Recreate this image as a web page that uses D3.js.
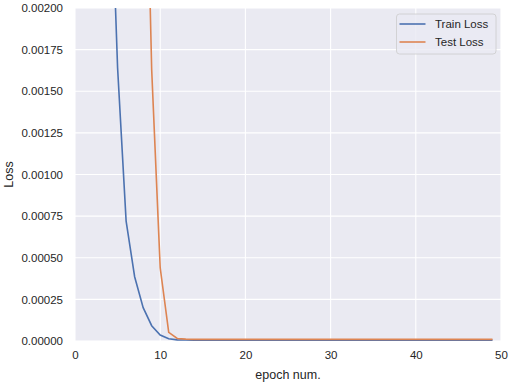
<!DOCTYPE html>
<html>
<head>
<meta charset="utf-8">
<script src="https://cdn.jsdelivr.net/npm/d3@7"></script>
<style>
  body { margin: 0; background: #fff; }
  text { font-family: "Liberation Sans", Arial, sans-serif; fill: #262626; }
</style>
</head>
<body>
<div id="chart"></div>
<script>
// epochs 0..49
const epochs = d3.range(0, 50);

// values (early epochs are off the top of the axis)
const trainLoss = [0.05, 0.02, 0.01, 0.0055, 0.0031, 0.00164, 0.00072, 0.000386, 0.0002, 0.000092,
  0.000036, 0.000014, 0.000007, 0.000006, 0.000005, 0.000005, 0.000005, 0.000005, 0.000005, 0.000005,
  0.000005, 0.000005, 0.000005, 0.000005, 0.000005, 0.000005, 0.000005, 0.000005, 0.000005, 0.000005,
  0.000005, 0.000005, 0.000005, 0.000005, 0.000005, 0.000005, 0.000005, 0.000005, 0.000005, 0.000005,
  0.000005, 0.000005, 0.000005, 0.000005, 0.000005, 0.000005, 0.000005, 0.000005, 0.000005, 0.000005];
const testLoss = [0.2, 0.1, 0.06, 0.04, 0.025, 0.018, 0.012, 0.007, 0.0038, 0.00163,
  0.00044, 0.000052, 0.000015, 0.000011, 0.00001, 0.00001, 0.00001, 0.00001, 0.00001, 0.00001,
  0.00001, 0.00001, 0.00001, 0.00001, 0.00001, 0.00001, 0.00001, 0.00001, 0.00001, 0.00001,
  0.00001, 0.00001, 0.00001, 0.00001, 0.00001, 0.00001, 0.00001, 0.00001, 0.00001, 0.00001,
  0.00001, 0.00001, 0.00001, 0.00001, 0.00001, 0.00001, 0.00001, 0.00001, 0.00001, 0.00001];

const seriesNames = ['Train Loss', 'Test Loss'];
const seriesColors = ['#4C72B0', '#DD8452'];
const xTicks = [0, 10, 20, 30, 40, 50];
const yTicks = [0, 0.00025, 0.0005, 0.00075, 0.001, 0.00125, 0.0015, 0.00175, 0.002];

const width = 512;
const height = 384;
const margin = { top: 8, right: 11, bottom: 43, left: 75 };

const x = d3.scaleLinear()
  .domain([0, 50])
  .range([margin.left, width - margin.right]);

const y = d3.scaleLinear()
  .domain([0, 0.002])
  .range([height - margin.bottom, margin.top]);

const svg = d3.select('#chart').append('svg')
  .attr('width', width)
  .attr('height', height);

svg.append('defs').append('clipPath')
  .attr('id', 'plot-clip')
  .append('rect')
  .attr('x', margin.left)
  .attr('y', margin.top)
  .attr('width', width - margin.left - margin.right)
  .attr('height', height - margin.top - margin.bottom);

// background
svg.append('rect')
  .attr('x', margin.left)
  .attr('y', margin.top)
  .attr('width', width - margin.left - margin.right)
  .attr('height', height - margin.top - margin.bottom)
  .attr('fill', '#EAEAF2');

// grid
svg.append('g')
  .selectAll('line')
  .data(xTicks)
  .enter()
  .append('line')
  .attr('x1', d => x(d))
  .attr('x2', d => x(d))
  .attr('y1', margin.top)
  .attr('y2', height - margin.bottom)
  .attr('stroke', '#fff')
  .attr('stroke-width', 1.1);

svg.append('g')
  .selectAll('line')
  .data(yTicks)
  .enter()
  .append('line')
  .attr('x1', margin.left)
  .attr('x2', width - margin.right)
  .attr('y1', d => y(d))
  .attr('y2', d => y(d))
  .attr('stroke', '#fff')
  .attr('stroke-width', 1.1);

// axes (labels only, no spines)
const xAxis = svg.append('g')
  .attr('transform', `translate(0,${height - margin.bottom})`)
  .call(d3.axisBottom(x).tickValues(xTicks).tickFormat(d3.format('d')).tickSize(0).tickPadding(10));
xAxis.select('.domain').remove();
xAxis.selectAll('text')
  .style('font-size', '11.5px')
  .style('font-family', '"Liberation Sans", Arial, sans-serif')
  .attr('fill', '#262626');

const yAxis = svg.append('g')
  .attr('transform', `translate(${margin.left},0)`)
  .call(d3.axisLeft(y).tickValues(yTicks).tickFormat(d3.format('.5f')).tickSize(0).tickPadding(12));
yAxis.select('.domain').remove();
yAxis.selectAll('text')
  .style('font-size', '11.5px')
  .style('font-family', '"Liberation Sans", Arial, sans-serif')
  .attr('fill', '#262626');

// axis titles
svg.append('text')
  .attr('x', x(25))
  .attr('y', 379)
  .attr('text-anchor', 'middle')
  .style('font-size', '12.5px')
  .text('epoch num.');

svg.append('text')
  .attr('transform', `translate(13,${y(0.001)}) rotate(-90)`)
  .attr('text-anchor', 'middle')
  .style('font-size', '12.5px')
  .text('Loss');

// lines
const allSeries = [trainLoss, testLoss];
const line = d3.line()
  .x((d, i) => x(epochs[i]))
  .y(d => y(d));

svg.append('g')
  .attr('clip-path', 'url(#plot-clip)')
  .selectAll('path')
  .data(allSeries)
  .enter()
  .append('path')
  .attr('d', d => line(d))
  .attr('fill', 'none')
  .attr('stroke', (d, i) => seriesColors[i])
  .attr('stroke-width', 1.6);

// legend
const legend = svg.append('g');
legend.append('rect')
  .attr('x', 396.5)
  .attr('y', 14)
  .attr('width', 99.5)
  .attr('height', 40)
  .attr('rx', 3)
  .attr('fill', '#EAEAF2')
  .attr('fill-opacity', 0.8)
  .attr('stroke', '#CCCCCC')
  .attr('stroke-width', 0.8);

seriesNames.forEach((name, i) => {
  const ly = 24 + i * 18;
  legend.append('line')
    .attr('x1', 399.5)
    .attr('x2', 425.5)
    .attr('y1', ly)
    .attr('y2', ly)
    .attr('stroke', seriesColors[i])
    .attr('stroke-width', 1.6);
  legend.append('text')
    .attr('x', 435)
    .attr('y', ly)
    .attr('dy', '0.35em')
    .style('font-size', '11.5px')
    .text(name);
});
</script>
</body>
</html>
